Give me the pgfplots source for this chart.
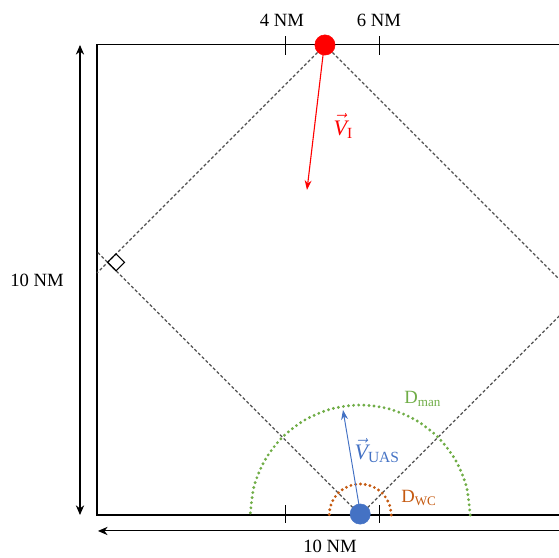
\documentclass[border=0pt]{standalone}
\usepackage{pgfplots}
\pgfplotsset{compat=1.18}
\usepackage{fontspec}
\setmainfont{Liberation Serif}
\usetikzlibrary{arrows.meta}
\definecolor{uasblue}{HTML}{4472C4}
\definecolor{mangreen}{HTML}{70AD47}
\definecolor{wcorange}{HTML}{C55A11}
\definecolor{dashgray}{HTML}{505050}
\begin{document}
\begin{tikzpicture}[font=\fontsize{13.5}{16}\selectfont]
\begin{axis}[scale only axis, width=5.59in, height=5.58in,
  xmin=-2.064, xmax=9.830, ymin=-0.915, ymax=10.957, hide axis, clip=true]
% box
\addplot[black, line width=0.75pt] coordinates {(10,0) (0,0) (0,10) (10,10) (10,0)};
% ticks
\addplot[black, line width=0.7pt] coordinates {(4,9.79) (4,10.19)};
\addplot[black, line width=0.7pt] coordinates {(6,9.79) (6,10.19)};
\addplot[black, line width=0.7pt] coordinates {(4,-0.17) (4,0.21)};
\addplot[black, line width=0.7pt] coordinates {(6,-0.17) (6,0.21)};
% dashed geometry lines
\addplot[dashgray, line width=0.85pt, dash pattern=on 2.2pt off 1.6pt] coordinates {(4.85,10) (0,5.15)};
\addplot[dashgray, line width=0.85pt, dash pattern=on 2.2pt off 1.6pt] coordinates {(4.85,10) (10,4.85)};
\addplot[dashgray, line width=0.85pt, dash pattern=on 2.2pt off 1.6pt] coordinates {(5.6,0) (0,5.6)};
\addplot[dashgray, line width=0.85pt, dash pattern=on 2.2pt off 1.6pt] coordinates {(5.6,0) (10,4.4)};
% right angle marker
\addplot[black, line width=0.8pt] coordinates {(0.225,5.375) (0.405,5.555) (0.585,5.375) (0.405,5.195) (0.225,5.375)};
% D_man arc
\addplot[mangreen, smooth, line width=2.3pt, line cap=round, dash pattern=on 0pt off 3.7pt] coordinates {
(7.94,0) (7.860,0.606) (7.626,1.170) (7.255,1.655) (6.770,2.026) (6.206,2.260) (5.6,2.34)
(4.994,2.260) (4.430,2.026) (3.945,1.655) (3.574,1.170) (3.340,0.606) (3.26,0)};
% D_WC arc
\addplot[wcorange, smooth, line width=2.3pt, line cap=round, dash pattern=on 0pt off 3.5pt] coordinates {
(6.26,0) (6.2375,0.1708) (6.1716,0.33) (6.0667,0.4667) (5.93,0.5716) (5.7708,0.6375) (5.6,0.66)
(5.4292,0.6375) (5.27,0.5716) (5.1333,0.4667) (5.0284,0.33) (4.9625,0.1708) (4.94,0)};
% dimension arrows
\addplot[black, line width=0.75pt, {Stealth[length=7pt,width=6pt]}-{Stealth[length=7pt,width=6pt]}] coordinates {(-0.362,10) (-0.362,0)};
\addplot[black, line width=0.75pt, {Stealth[length=7pt,width=6pt]}-{Stealth[length=7pt,width=6pt]}] coordinates {(0.02,-0.34) (10.4,-0.34)};
% velocity vectors
\addplot[red, line width=0.8pt, -{Stealth[length=7pt,width=5pt]}] coordinates {(4.81,9.79) (4.468,6.915)};
\addplot[uasblue, line width=0.7pt, -{Stealth[length=7pt,width=5pt]}] coordinates {(5.574,0.213) (5.234,2.234)};
% aircraft
\addplot[only marks, mark=*, mark size=7.3pt, red, mark options={draw=red, fill=red}] coordinates {(4.85,10)};
\addplot[only marks, mark=*, mark size=7.3pt, uasblue, mark options={draw=uasblue, fill=uasblue}] coordinates {(5.6,0.02)};
% labels
\node at (axis cs:3.936,10.53) {4 NM};
\node at (axis cs:6.0,10.53) {6 NM};
\node at (axis cs:-1.277,5.0) {10 NM};
\node at (axis cs:4.957,-0.66) {10 NM};
\node[text=red, font=\fontsize{16}{18}\selectfont] at (axis cs:5.24,8.27) {$\vec{\mbox{\itshape V}}$\textsubscript{I}};
\node[text=uasblue, font=\fontsize{16}{18}\selectfont] at (axis cs:5.96,1.37) {$\vec{\mbox{\itshape V}}$\textsubscript{UAS}};
\node[text=mangreen] at (axis cs:6.93,2.47) {D\textsubscript{man}};
\node[text=wcorange] at (axis cs:6.85,0.36) {D\textsubscript{WC}};
\path (rel axis cs:0,0) rectangle (rel axis cs:1,1);
\end{axis}
\end{tikzpicture}
\end{document}
